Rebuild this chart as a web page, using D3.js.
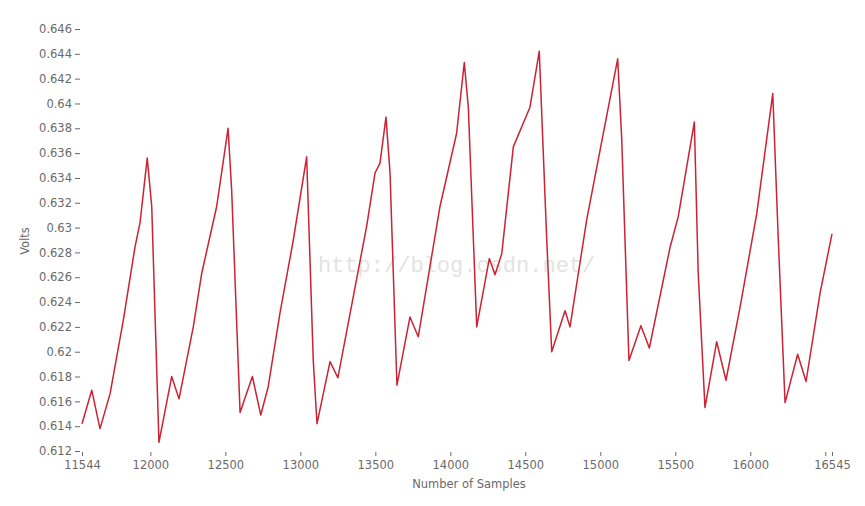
<!DOCTYPE html>
<html>
<head>
<meta charset="utf-8">
<script src="https://cdn.jsdelivr.net/npm/d3@7"></script>
<style>
  body { margin: 0; background: #fff; }
  .axis text { font-family: "DejaVu Sans", sans-serif; font-size: 11.5px; fill: #6a6a6a; }
  .axis line { stroke: #6a6a6a; }
  .axis .domain { display: none; }
</style>
</head>
<body>
<svg width="865" height="506"></svg>
<script>
// sample index of each traced vertex
var samples = [11544, 11609, 11664, 11731, 11819, 11897, 11931, 11979, 12009, 12057,
  12142, 12191, 12286, 12342, 12442, 12518, 12542, 12598, 12680, 12736,
  12786, 12864, 12953, 13042, 13086, 13111, 13198, 13250, 13442, 13498,
  13531, 13571, 13598, 13644, 13731, 13786, 13931, 14042, 14093, 14120,
  14176, 14260, 14298, 14343, 14420, 14531, 14593, 14643, 14676, 14765,
  14798, 14909, 14998, 15116, 15143, 15191, 15271, 15327, 15465, 15520,
  15627, 15653, 15698, 15776, 15838, 15932, 16043, 16150, 16187, 16232,
  16316, 16372, 16465, 16545];

// volts
var volts = [0.6142, 0.6169, 0.6138, 0.6166, 0.6225, 0.6284, 0.6304, 0.6356, 0.6317, 0.6127,
  0.6180, 0.6162, 0.6220, 0.6263, 0.6317, 0.6380, 0.6330, 0.6151, 0.6180, 0.6149,
  0.6172, 0.6231, 0.6290, 0.6357, 0.6193, 0.6142, 0.6192, 0.6179, 0.6301, 0.6344,
  0.6352, 0.6389, 0.6344, 0.6173, 0.6228, 0.6212, 0.6317, 0.6376, 0.6433, 0.6397,
  0.6220, 0.6275, 0.6262, 0.6279, 0.6365, 0.6397, 0.6442, 0.6290, 0.6200, 0.6233,
  0.6220, 0.6306, 0.6362, 0.6436, 0.6371, 0.6193, 0.6221, 0.6203, 0.6284, 0.6309,
  0.6385, 0.6263, 0.6155, 0.6208, 0.6177, 0.6236, 0.6311, 0.6408, 0.6290, 0.6159,
  0.6198, 0.6176, 0.6247, 0.6295];

var xTicks = [11544, 12000, 12500, 13000, 13500, 14000, 14500, 15000, 15500, 16000, 16500, 16545];
var yTicks = [0.612, 0.614, 0.616, 0.618, 0.62, 0.622, 0.624, 0.626, 0.628, 0.63,
  0.632, 0.634, 0.636, 0.638, 0.64, 0.642, 0.644, 0.646];

var svg = d3.select("svg");

var x = d3.scaleLinear().domain([11544, 16545]).range([82, 832]);
var y = d3.scaleLinear().domain([0.612, 0.646]).range([451, 29]);

var xAxis = d3.axisBottom(x)
  .tickValues(xTicks)
  .tickSize(4)
  .tickPadding(5)
  .tickFormat(function (d) { return d === 16500 ? "" : d; });

svg.append("g")
  .attr("class", "axis")
  .attr("transform", "translate(0,452)")
  .call(xAxis);

var yAxis = d3.axisLeft(y)
  .tickValues(yTicks)
  .tickSize(5)
  .tickPadding(3)
  .tickFormat(d3.format(".3~f"));

svg.append("g")
  .attr("class", "axis")
  .attr("transform", "translate(80,0)")
  .call(yAxis);

// watermark
svg.append("text")
  .attr("x", 318)
  .attr("y", 272)
  .style("font-family", "Liberation Mono, monospace")
  .style("font-size", "22px")
  .style("fill", "#e3e3e3")
  .text("http://blog.csdn.net/");

var pts = samples.map(function (s, i) { return [s, volts[i]]; });

var line = d3.line()
  .x(function (d) { return x(d[0]); })
  .y(function (d) { return y(d[1]); });

svg.append("path")
  .datum(pts)
  .attr("fill", "none")
  .attr("stroke", "#cc2233")
  .attr("stroke-width", 1.5)
  .attr("stroke-linejoin", "round")
  .attr("d", line);

svg.append("text")
  .attr("x", 469)
  .attr("y", 488)
  .attr("text-anchor", "middle")
  .style("font-family", "DejaVu Sans, sans-serif")
  .style("font-size", "11.5px")
  .style("fill", "#6a6a6a")
  .text("Number of Samples");

svg.append("text")
  .attr("transform", "translate(29,241) rotate(-90)")
  .attr("text-anchor", "middle")
  .style("font-family", "DejaVu Sans, sans-serif")
  .style("font-size", "11.5px")
  .style("fill", "#6a6a6a")
  .text("Volts");
</script>
</body>
</html>
